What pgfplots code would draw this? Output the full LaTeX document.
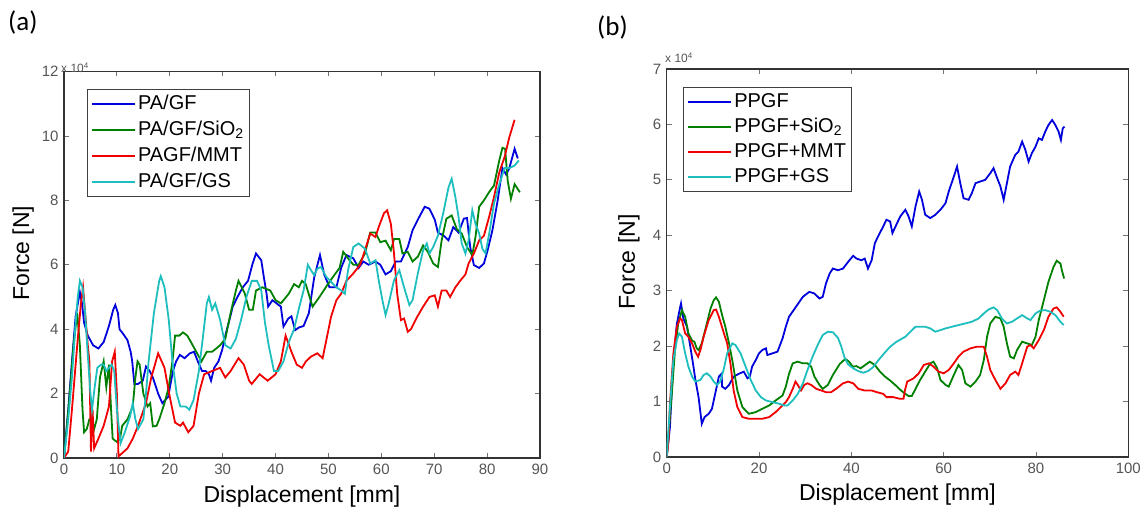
\documentclass[border=0pt]{standalone}
\usepackage{fontspec}
\setmainfont{Liberation Sans}
\newfontfamily\carlito{Carlito}
\usepackage{pgfplots}
\pgfplotsset{compat=1.18}
\definecolor{mblue}{RGB}{0,0,220}
\definecolor{mgreen}{RGB}{0,128,0}
\definecolor{mred}{RGB}{240,0,0}
\definecolor{mcyan}{RGB}{30,190,190}
\definecolor{tickgray}{RGB}{85,85,85}
\pgfplotsset{
  matlab/.style={
    scale only axis,
    enlargelimits=false,
    axis line style={black!80, line width=1.1pt},
    tick align=inside,
    major tick length=5pt,
    tick style={black!55, line width=0.8pt},
    /pgf/number format/assume math mode=true,
    ticklabel style={font=\fontsize{15}{15}\selectfont, text=tickgray},
    xticklabel style={yshift=-2pt},
    yticklabel style={xshift=-2pt},
    legend cell align=left,
    legend image code/.code={\draw[##1] (0pt,0pt) -- (43pt,0pt);},
    every axis plot/.append style={line width=1.8pt},
  }
}
\begin{document}
\begin{tikzpicture}
\useasboundingbox (0pt,0pt) rectangle (1146pt,515pt);
% ---------------- (a) ----------------
\begin{axis}[matlab,
  at={(64pt,57pt)}, anchor=south west,
  width=476pt, height=386.5pt,
  xmin=0, xmax=90, ymin=0, ymax=12,
  xtick={0,10,...,90}, ytick={0,2,...,12},
  xlabel={Displacement [mm]}, ylabel={Force [N]},
  every axis x label/.style={at={(axis description cs:0.5,-0.101)}, anchor=center, font=\fontsize{23}{23}\selectfont},
  every axis y label/.style={at={(axis description cs:-0.086,0.53)}, rotate=90, anchor=center, font=\fontsize{23}{23}\selectfont},
  legend style={at={(axis description cs:0.0477,0.955)}, anchor=north west,
    draw=black!75, line width=1pt, fill=white, inner xsep=4pt, inner ysep=4pt,
    row sep=5pt, font=\fontsize{20}{20}\selectfont,
    nodes={inner sep=2pt, text height=14pt, text depth=3pt}},
]
\addplot[mblue] coordinates {(0,0) (0.8,1.5) (1.5,3.0) (2.2,4.4) (3.0,5.15) (3.4,4.8) (3.8,4.2) (4.5,3.8) (5.5,3.5) (6.5,3.4) (7.5,3.6) (8.5,4.1) (9.3,4.6) (9.7,4.75) (10.2,4.5) (10.5,4.0) (11.2,3.85) (12.0,3.66) (12.6,3.3) (12.9,3.0) (13.3,2.3) (14.0,2.3) (14.9,2.4) (15.5,2.84) (16.2,2.7) (16.8,2.5) (17.8,2.0) (18.6,1.7) (19.7,1.9) (20.6,2.7) (21.2,3.0) (21.9,3.2) (22.8,3.1) (23.8,3.25) (24.6,3.3) (25.3,3.0) (26.1,2.7) (26.8,2.7) (27.4,2.6) (27.8,2.4) (28.4,2.8) (29.2,3.0) (29.9,3.35) (30.6,3.87) (31.3,4.3) (31.9,4.7) (32.8,5.0) (33.8,5.3) (34.8,5.5) (35.6,6.0) (36.3,6.35) (37.3,6.14) (37.8,5.6) (38.3,5.1) (38.6,4.7) (39.4,4.9) (40.2,4.8) (41.0,4.7) (41.5,4.08) (42.4,4.33) (43.0,4.4) (43.7,3.97) (44.4,4.05) (45.3,4.1) (46.3,4.5) (47.3,5.6) (48.4,6.3) (49.2,5.7) (50.2,5.3) (51.5,5.3) (52.4,5.9) (53.4,6.3) (54.7,6.2) (55.7,5.9) (56.6,6.1) (57.6,6.0) (58.9,6.1) (59.8,6.0) (60.8,5.7) (61.8,5.8) (62.7,6.1) (63.7,6.1) (65.0,6.55) (65.9,7.07) (66.9,7.4) (68.2,7.8) (69.1,7.74) (70.1,7.4) (70.7,7.0) (71.8,6.9) (72.7,6.76) (73.6,7.17) (74.6,7.0) (75.6,7.43) (76.2,7.45) (76.8,6.55) (77.5,5.99) (78.5,5.9) (79.4,6.04) (80.1,6.45) (81.0,7.07) (82.0,8.0) (82.9,9.0) (83.6,8.8) (84.2,9.0) (85.2,9.6) (85.8,9.3)};
\addlegendentry{PA/GF}
\addplot[mgreen] coordinates {(0,0) (1.0,1.8) (1.8,3.5) (2.5,4.5) (3.0,3.5) (3.5,1.5) (3.8,0.8) (4.3,0.9) (4.8,1.2) (5.3,1.2) (5.7,0.9) (6.2,1.2) (6.8,2.5) (7.5,3.0) (8.0,2.2) (8.5,2.9) (8.9,1.5) (9.2,0.6) (10.0,0.5) (10.6,0.6) (11.0,1.0) (12.0,1.2) (13.0,1.6) (13.5,2.5) (13.9,3.0) (14.3,2.9) (15.0,2.0) (15.8,1.6) (16.3,1.7) (16.8,0.98) (17.5,1.0) (18.0,1.2) (19.0,1.7) (19.8,2.2) (20.5,3.0) (21.0,3.8) (21.8,3.8) (22.5,3.9) (23.3,3.8) (24.0,3.6) (25.0,3.3) (26.0,3.0) (27.0,3.3) (28.0,3.3) (28.8,3.4) (29.5,3.5) (30.5,3.7) (31.5,4.5) (32.5,5.2) (33.0,5.5) (33.6,5.3) (34.2,5.1) (35.0,4.6) (35.7,4.6) (36.3,5.2) (37.5,5.3) (39.0,5.2) (40.0,4.9) (41.0,4.8) (42.5,5.1) (43.5,5.4) (44.4,5.3) (45.0,5.5) (45.7,5.4) (47.0,4.7) (48.3,5.0) (49.9,5.4) (51.2,5.7) (52.1,5.9) (52.8,6.4) (53.7,6.2) (54.7,6.0) (55.7,6.0) (56.9,6.35) (57.9,7.0) (58.9,7.0) (59.8,6.7) (60.8,6.75) (61.8,6.45) (62.4,6.8) (63.4,6.8) (64.0,6.35) (65.0,6.4) (65.9,6.1) (66.9,6.25) (67.9,6.6) (68.8,6.4) (69.8,6.04) (70.7,5.93) (71.4,6.75) (72.3,7.43) (73.3,7.53) (74.3,7.1) (75.2,6.97) (76.2,6.55) (77.2,6.3) (77.8,6.86) (78.5,7.8) (79.4,8.0) (80.4,8.26) (81.3,8.46) (82.3,9.24) (82.9,9.63) (83.4,9.6) (83.9,8.6) (84.5,8.05) (85.2,8.5) (86.2,8.25)};
\addlegendentry{PA/GF/SiO\textsubscript{2}}
\addplot[mred] coordinates {(0,0) (0.8,0.2) (1.5,1.5) (2.5,3.5) (3.2,4.8) (3.6,5.3) (4.0,4.5) (4.5,3.5) (4.8,3.0) (5.1,0.2) (5.4,1.5) (5.7,0.3) (6.5,0.6) (7.5,1.0) (8.5,1.6) (9.1,3.0) (9.6,3.3) (10.0,2.0) (10.3,0.05) (11.0,0.15) (12.0,0.3) (13.0,0.6) (14.0,1.0) (15.5,1.7) (16.5,2.5) (17.8,3.25) (19.0,2.8) (20.0,1.9) (21.0,1.1) (22.0,1.0) (22.5,1.1) (23.5,0.8) (24.5,1.0) (25.5,2.0) (26.5,2.6) (28.0,2.7) (29.5,2.8) (30.5,2.5) (31.5,2.7) (33.0,3.1) (34.0,2.9) (35.0,2.4) (35.5,2.3) (37.0,2.6) (38.5,2.4) (40.0,2.6) (41.0,3.0) (41.9,3.8) (43.0,3.3) (44.0,2.9) (45.0,2.8) (45.7,2.99) (46.7,3.15) (47.9,3.25) (48.9,3.1) (49.6,3.66) (50.5,4.39) (51.5,4.9) (52.4,5.1) (53.4,5.5) (54.7,5.73) (56.0,6.0) (56.9,6.45) (57.9,6.97) (58.9,6.86) (59.5,7.17) (60.5,7.6) (61.1,7.69) (61.8,7.27) (62.4,6.35) (63.0,5.1) (63.7,4.28) (64.3,4.33) (65.0,3.92) (65.6,4.0) (66.6,4.33) (67.9,4.7) (69.1,5.0) (70.1,5.05) (70.7,4.7) (71.4,5.2) (72.3,5.2) (73.0,5.0) (74.0,5.3) (74.9,5.5) (75.9,5.7) (76.5,6.04) (77.5,6.35) (78.5,6.76) (79.4,6.9) (80.4,7.5) (81.3,8.1) (82.3,8.87) (83.3,9.34) (84.2,9.96) (85.2,10.5)};
\addlegendentry{PAGF/MMT}
\addplot[mcyan] coordinates {(0,0) (0.8,1.2) (1.5,2.5) (2.2,4.2) (2.6,5.0) (3.0,5.5) (3.5,5.3) (4.0,4.5) (4.5,3.2) (5.0,2.0) (5.3,1.5) (5.8,2.2) (6.3,2.8) (7.0,2.9) (7.5,2.9) (8.0,2.7) (9.0,2.9) (9.5,2.7) (10.0,1.5) (10.7,0.46) (11.5,0.8) (12.5,1.3) (13.0,1.7) (13.5,1.2) (14.0,0.9) (15.0,1.2) (15.5,2.0) (16.0,3.0) (17.0,4.5) (18.0,5.5) (18.3,5.65) (19.0,5.3) (19.8,4.3) (20.5,3.0) (21.3,2.0) (22.0,1.6) (23.0,1.6) (23.7,1.5) (24.5,1.8) (25.5,2.7) (26.3,3.8) (27.0,4.8) (27.4,5.0) (28.0,4.6) (28.6,4.8) (29.5,4.3) (30.5,3.5) (31.5,3.4) (32.5,3.7) (33.5,4.3) (34.5,5.0) (35.5,5.5) (36.5,5.5) (37.3,5.2) (38.0,4.2) (38.7,3.5) (39.7,2.7) (40.5,2.7) (41.5,3.0) (42.5,3.6) (43.5,4.0) (44.5,4.7) (45.3,5.2) (46.1,6.0) (46.7,5.83) (47.3,5.68) (47.9,5.88) (48.6,5.93) (49.6,5.62) (50.5,5.47) (51.5,5.3) (52.4,5.2) (53.1,5.1) (53.7,5.83) (54.7,6.55) (55.7,6.66) (56.9,6.5) (57.9,6.04) (58.9,6.14) (59.5,5.52) (60.2,4.9) (60.8,4.44) (61.4,4.8) (62.4,5.52) (63.4,5.83) (64.3,5.3) (65.3,4.75) (65.9,4.9) (66.9,5.73) (67.9,6.45) (68.6,6.66) (69.1,6.35) (69.8,6.55) (70.7,6.9) (71.7,7.6) (72.7,8.4) (73.3,8.67) (74.0,8.1) (74.6,7.48) (75.2,6.66) (75.9,6.35) (76.5,6.76) (77.2,7.69) (77.8,7.27) (78.5,6.97) (79.1,6.5) (79.7,6.35) (80.4,6.97) (81.3,7.9) (82.3,8.5) (83.3,9.0) (84.2,9.0) (85.2,9.08) (86.0,9.24)};
\addlegendentry{PA/GF/GS}
\end{axis}
% ---------------- (b) ----------------
\begin{axis}[matlab,
  at={(666.7pt,58pt)}, anchor=south west,
  width=461.6pt, height=388pt,
  xmin=0, xmax=100, ymin=0, ymax=7,
  xtick={0,20,...,100}, ytick={0,1,...,7},
  xlabel={Displacement [mm]}, ylabel={Force [N]},
  every axis x label/.style={at={(axis description cs:0.5,-0.098)}, anchor=center, font=\fontsize{23}{23}\selectfont},
  every axis y label/.style={at={(axis description cs:-0.082,0.503)}, rotate=90, anchor=center, font=\fontsize{23}{23}\selectfont},
  legend style={at={(axis description cs:0.0353,0.954)}, anchor=north west,
    draw=black!75, line width=1pt, fill=white, inner xsep=4pt, inner ysep=4pt,
    row sep=4pt, font=\fontsize{20}{20}\selectfont,
    nodes={inner sep=2pt, text height=14pt, text depth=3pt}},
]
\addplot[mblue] coordinates {(0,0) (0.7,0.54) (1.45,1.75) (2.2,2.4) (2.9,2.7) (3.1,2.77) (3.6,2.5) (4.4,2.35) (5.1,2.0) (5.8,1.63) (6.2,1.4) (6.9,1.08) (7.6,0.6) (8.2,0.72) (9.1,0.78) (9.8,0.87) (10.5,1.14) (11.3,1.45) (11.9,1.5) (12.0,1.27) (12.7,1.23) (13.5,1.3) (14.5,1.45) (15.6,1.5) (16.7,1.54) (17.5,1.42) (18.0,1.45) (18.5,1.63) (19.3,1.75) (20.0,1.87) (20.7,1.93) (21.5,1.96) (21.8,1.84) (22.9,1.87) (24.0,1.9) (25.1,2.14) (25.8,2.35) (26.5,2.53) (28.0,2.71) (29.5,2.89) (30.9,2.98) (32.0,2.95) (33.1,2.86) (33.8,2.89) (34.5,3.13) (35.3,3.31) (36.0,3.4) (37.1,3.37) (38.2,3.4) (39.3,3.52) (40.4,3.63) (41.1,3.58) (42.2,3.55) (42.9,3.58) (43.6,3.4) (44.4,3.55) (45.1,3.86) (45.8,3.98) (46.9,4.16) (47.6,4.28) (48.4,4.25) (48.9,4.04) (49.8,4.2) (50.6,4.34) (51.7,4.46) (52.4,4.34) (53.1,4.16) (53.9,4.52) (54.7,4.79) (55.3,4.64) (56.0,4.37) (57.1,4.31) (58.2,4.37) (59.3,4.46) (60.4,4.58) (61.1,4.79) (62.2,5.06) (62.9,5.24) (63.6,4.94) (64.3,4.67) (65.4,4.64) (66.1,4.76) (66.9,4.94) (67.9,4.97) (69.0,5.0) (70.1,5.12) (70.8,5.21) (71.6,5.03) (72.3,4.88) (73.0,4.64) (73.7,4.94) (74.4,5.24) (75.5,5.45) (76.2,5.51) (77.0,5.69) (77.7,5.54) (78.4,5.33) (79.1,5.48) (79.9,5.6) (80.6,5.75) (81.3,5.72) (82.0,5.87) (82.7,5.99) (83.5,6.08) (84.2,5.99) (84.9,5.87) (85.4,5.72) (85.8,5.93) (86.2,5.96)};
\addlegendentry{PPGF}
\addplot[mgreen] coordinates {(0,0) (1.1,1.14) (1.8,1.93) (2.5,2.41) (3.3,2.65) (4.0,2.53) (4.7,2.23) (5.5,2.1) (6.0,2.08) (6.5,1.96) (6.9,1.93) (7.6,2.05) (8.7,2.41) (9.5,2.68) (10.2,2.83) (10.7,2.88) (11.3,2.8) (12.0,2.56) (12.7,2.35) (13.5,2.05) (14.2,1.75) (15.3,1.2) (16.4,0.9) (17.8,0.78) (19.3,0.81) (20.7,0.87) (22.2,0.93) (23.6,1.02) (25.1,1.11) (25.8,1.27) (26.5,1.5) (27.3,1.69) (28.4,1.72) (29.5,1.69) (30.5,1.69) (31.3,1.63) (32.0,1.45) (33.1,1.3) (33.8,1.23) (34.9,1.3) (36.0,1.48) (37.5,1.68) (38.7,1.77) (39.5,1.72) (40.3,1.63) (41.1,1.64) (42.0,1.6) (43.0,1.66) (44.0,1.72) (45.1,1.66) (46.2,1.54) (47.3,1.45) (48.4,1.38) (49.5,1.3) (50.5,1.22) (51.5,1.15) (52.4,1.1) (53.1,1.1) (53.9,1.23) (54.9,1.39) (56.0,1.54) (57.1,1.69) (57.8,1.72) (58.6,1.6) (59.3,1.39) (60.4,1.3) (61.1,1.27) (62.2,1.48) (63.2,1.66) (64.0,1.57) (64.7,1.33) (65.8,1.27) (66.9,1.36) (67.9,1.48) (68.7,1.75) (69.4,2.17) (70.1,2.41) (71.2,2.53) (72.3,2.5) (73.0,2.35) (73.7,2.05) (74.4,1.81) (75.2,1.78) (75.9,1.93) (77.0,2.08) (78.1,2.05) (79.1,2.02) (79.9,2.17) (80.6,2.47) (81.7,2.83) (82.7,3.16) (83.8,3.43) (84.5,3.54) (85.3,3.49) (85.6,3.37) (86.1,3.22)};
\addlegendentry{PPGF+SiO\textsubscript{2}}
\addplot[mred] coordinates {(0,0) (0.4,0.3) (0.7,0.96) (1.45,1.87) (2.2,2.35) (2.9,2.5) (3.3,2.47) (4.0,2.23) (4.7,2.17) (5.5,2.05) (6.2,1.9) (6.8,1.81) (7.3,1.93) (8.0,2.17) (9.1,2.47) (10.2,2.65) (10.7,2.66) (11.3,2.53) (12.4,2.23) (13.1,2.05) (13.8,1.69) (14.5,1.2) (15.3,0.9) (16.4,0.72) (17.8,0.69) (19.3,0.69) (20.7,0.69) (22.2,0.72) (23.6,0.81) (24.7,0.9) (25.8,0.99) (26.5,1.08) (27.3,1.23) (27.9,1.36) (28.4,1.3) (29.1,1.2) (29.8,1.3) (30.5,1.33) (31.3,1.3) (32.4,1.23) (33.5,1.2) (34.5,1.17) (35.6,1.17) (36.7,1.23) (38.2,1.33) (39.3,1.36) (40.4,1.33) (41.5,1.23) (42.9,1.2) (44.4,1.2) (45.5,1.17) (46.9,1.14) (47.6,1.08) (49.1,1.08) (50.5,1.05) (51.3,1.05) (51.6,1.2) (52.1,1.36) (52.8,1.39) (53.5,1.42) (54.6,1.51) (55.7,1.66) (56.8,1.69) (57.8,1.63) (58.9,1.54) (60.0,1.51) (61.1,1.57) (62.2,1.69) (63.2,1.81) (64.3,1.9) (65.8,1.96) (67.2,1.99) (68.7,1.99) (69.4,1.81) (70.1,1.57) (71.2,1.39) (72.3,1.23) (73.4,1.33) (74.4,1.48) (75.5,1.54) (76.2,1.48) (77.0,1.69) (78.1,1.99) (78.8,2.02) (79.5,1.96) (80.6,2.11) (81.7,2.29) (82.7,2.53) (83.8,2.68) (84.5,2.7) (85.3,2.62) (86.0,2.53)};
\addlegendentry{PPGF+MMT}
\addplot[mcyan] coordinates {(0,0) (0.7,0.9) (1.45,1.75) (2.2,2.11) (2.7,2.23) (3.3,2.17) (4.0,1.87) (4.7,1.63) (5.5,1.45) (6.2,1.36) (7.3,1.39) (8.0,1.48) (8.7,1.51) (9.5,1.45) (10.2,1.36) (10.9,1.3) (11.6,1.36) (12.4,1.6) (13.1,1.87) (14.2,2.05) (14.9,2.02) (16.0,1.87) (17.1,1.63) (18.2,1.39) (19.3,1.2) (20.4,1.08) (21.5,1.02) (22.9,0.99) (24.4,0.96) (25.5,0.93) (26.2,0.93) (27.3,1.02) (28.4,1.14) (29.5,1.33) (30.5,1.57) (31.6,1.81) (32.7,2.02) (33.8,2.2) (34.9,2.26) (36.0,2.25) (37.1,2.15) (37.8,2.0) (38.5,1.8) (39.3,1.67) (40.4,1.6) (41.5,1.55) (42.5,1.52) (43.6,1.55) (44.7,1.62) (45.8,1.74) (46.9,1.85) (48.4,1.99) (49.8,2.08) (51.7,2.17) (52.8,2.26) (53.9,2.35) (56.0,2.35) (57.1,2.32) (58.2,2.26) (59.3,2.29) (60.4,2.32) (61.8,2.35) (63.2,2.38) (64.7,2.41) (66.1,2.44) (67.6,2.5) (68.7,2.59) (69.7,2.66) (70.8,2.7) (71.6,2.65) (72.6,2.5) (73.7,2.41) (74.8,2.44) (75.9,2.5) (77.0,2.56) (78.1,2.5) (78.8,2.47) (79.9,2.59) (80.9,2.64) (82.0,2.65) (83.1,2.62) (84.2,2.56) (85.3,2.44) (86.0,2.38)};
\addlegendentry{PPGF+GS}
\end{axis}
% multipliers and panel letters
\node[anchor=base west, inner sep=0pt, text=tickgray, font=\fontsize{12}{12}\selectfont] at (61pt,442pt) {x 10\textsuperscript{4}};
\node[anchor=base west, inner sep=0pt, text=tickgray, font=\fontsize{12}{12}\selectfont] at (665pt,452pt) {x 10\textsuperscript{4}};
\node[anchor=base west, inner sep=0pt, font=\carlito\fontsize{27}{27}\selectfont] at (8pt,484pt) {(a)};
\node[anchor=base west, inner sep=0pt, font=\carlito\fontsize{27}{27}\selectfont] at (597pt,479pt) {(b)};
\end{tikzpicture}
\end{document}
